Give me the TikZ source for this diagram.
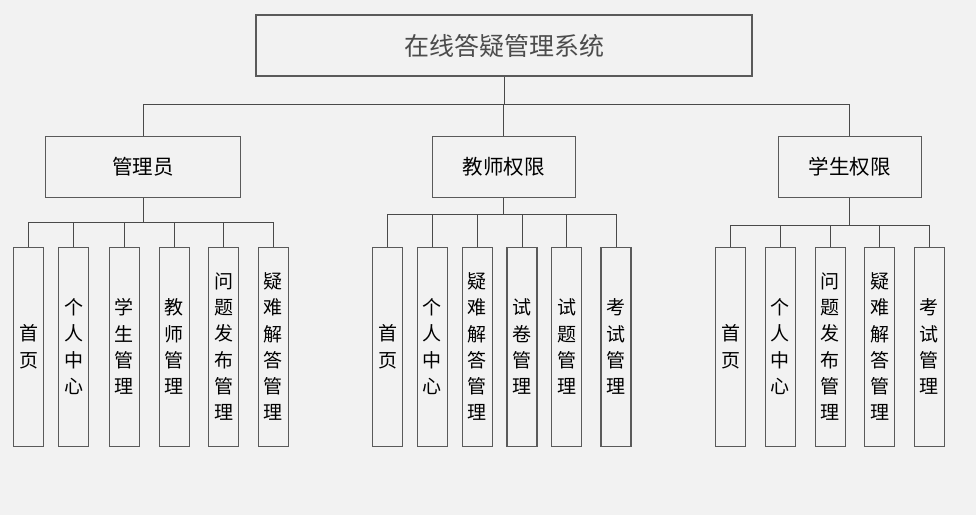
\documentclass[tikz,border=0pt]{standalone}
\usepackage{fontspec}
\setmainfont{Noto Sans CJK SC}
\definecolor{bg}{HTML}{F2F2F2}
\definecolor{ln}{HTML}{4A4A4A}
\definecolor{bd}{HTML}{5A5A5A}
\begin{document}
\begin{tikzpicture}[x=1pt,y=1pt,
  box/.style={draw=bd,line width=1.1pt,fill=bg,inner sep=0pt,align=center},
  rootbox/.style={box,minimum width=496pt,minimum height=61pt,text=black!70,font=\fontsize{25}{28}\selectfont},
  midbox/.style={box,minimum height=60.7pt,font=\fontsize{20.5}{24}\selectfont},
  leaf/.style={box,minimum width=30pt,minimum height=198.7pt,font=\fontsize{19}{26.3}\selectfont},
  conn/.style={draw=ln,line width=1pt}]
\fill[bg] (0,0) rectangle (976,-515);
\useasboundingbox (0,0) rectangle (976,-515);

\node[rootbox] (root) at (504,-45.5) {在线答疑管理系统};
\node[midbox,minimum width=195.2pt] (adm) at (143.1,-166.7) {管理员};
\node[midbox,minimum width=143.3pt] (tea) at (503.7,-166.7) {教师权限};
\node[midbox,minimum width=143pt] (stu) at (849.8,-166.7) {学生权限};

\coordinate (bus) at (0,-104);
\coordinate (abus) at (0,-222.7);
\coordinate (tbus) at (0,-214);
\coordinate (sbus) at (0,-225);

% admin leaves
\node[leaf] (a1) at (28.7,-346.7) {首\\页};
\node[leaf] (a2) at (73.7,-346.7) {个\\人\\中\\心};
\node[leaf] (a3) at (124.3,-346.7) {学\\生\\管\\理};
\node[leaf] (a4) at (174.2,-346.7) {教\\师\\管\\理};
\node[leaf] (a5) at (223.7,-346.7) {问\\题\\发\\布\\管\\理};
\node[leaf] (a6) at (273.3,-346.7) {疑\\难\\解\\答\\管\\理};
% teacher leaves
\node[leaf] (t1) at (387.7,-346.7) {首\\页};
\node[leaf] (t2) at (432.3,-346.7) {个\\人\\中\\心};
\node[leaf] (t3) at (477.3,-346.7) {疑\\难\\解\\答\\管\\理};
\node[leaf] (t4) at (522,-346.7) {试\\卷\\管\\理};
\node[leaf] (t5) at (566.7,-346.7) {试\\题\\管\\理};
\node[leaf] (t6) at (616,-346.7) {考\\试\\管\\理};
% student leaves
\node[leaf] (s1) at (730.7,-346.7) {首\\页};
\node[leaf] (s2) at (780.3,-346.7) {个\\人\\中\\心};
\node[leaf] (s3) at (830.3,-346.7) {问\\题\\发\\布\\管\\理};
\node[leaf] (s4) at (879.7,-346.7) {疑\\难\\解\\答\\管\\理};
\node[leaf] (s5) at (929.3,-346.7) {考\\试\\管\\理};

% top level connectors
\draw[conn] (root.south) -- (root.south |- bus);
\draw[conn] (adm.north) -- (adm.north |- bus) -- (stu.north |- bus) -- (stu.north);
\draw[conn] (tea.north) -- (tea.north |- bus);

% admin connectors
\draw[conn] (adm.south) -- (adm.south |- abus);
\draw[conn] (a1.north) -- (a1.north |- abus) -- (a6.north |- abus) -- (a6.north);
\foreach \n in {a2,a3,a4,a5} \draw[conn] (\n.north) -- (\n.north |- abus);

% teacher connectors
\draw[conn] (tea.south) -- (tea.south |- tbus);
\draw[conn] (t1.north) -- (t1.north |- tbus) -- (t6.north |- tbus) -- (t6.north);
\foreach \n in {t2,t3,t4,t5} \draw[conn] (\n.north) -- (\n.north |- tbus);

% student connectors
\draw[conn] (stu.south) -- (stu.south |- sbus);
\draw[conn] (s1.north) -- (s1.north |- sbus) -- (s5.north |- sbus) -- (s5.north);
\foreach \n in {s2,s3,s4} \draw[conn] (\n.north) -- (\n.north |- sbus);
\end{tikzpicture}
\end{document}
